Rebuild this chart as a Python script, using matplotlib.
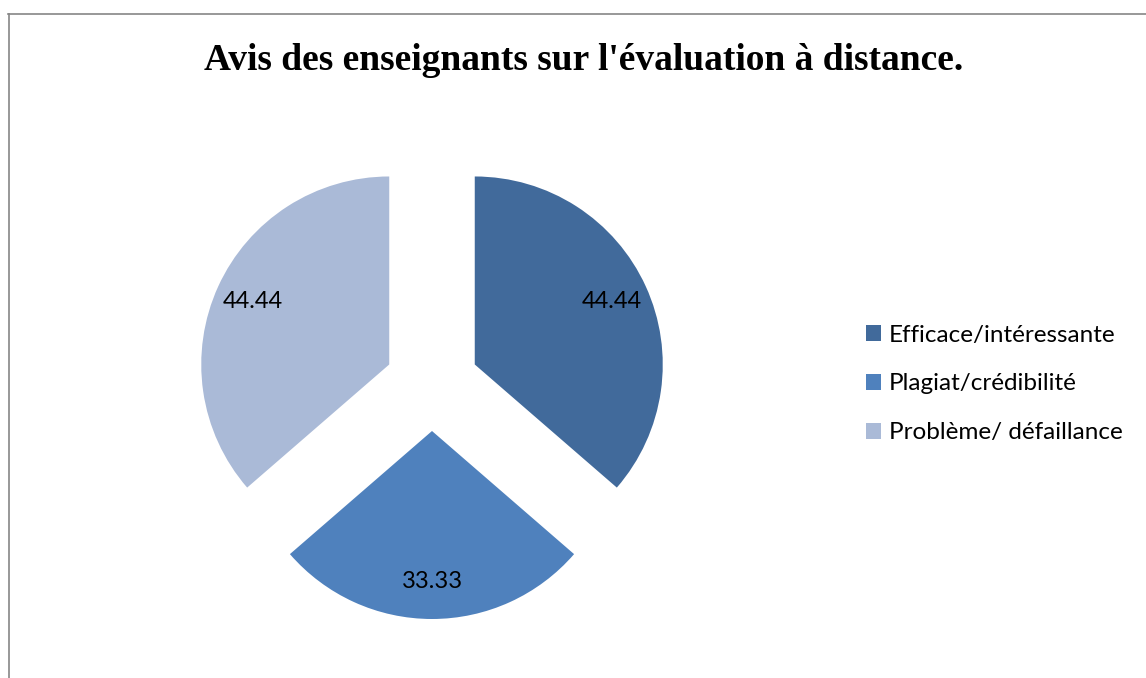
import matplotlib.pyplot as plt
from matplotlib.lines import Line2D

# data
categories = ['Efficace/intéressante', 'Plagiat/crédibilité', 'Problème/ défaillance']
values = [44.44, 33.33, 44.44]
colors = ['#416A9B', '#4F81BD', '#AABAD7']

W, H = 1146, 678
fig = plt.figure(figsize=(W / 100, H / 100), dpi=100)

# pie centre and radius in pixels
cx, cy, r = 432, 384, 188
size = 2 * 1.25 * r
ax = fig.add_axes([(cx - size / 2) / W, (H - cy - size / 2) / H, size / W, size / H])

wedges, texts = ax.pie(values, colors=colors, startangle=90, counterclock=False,
                       explode=[0.25] * len(values),
                       labels=[f'{v:.2f}' for v in values], labeldistance=0.8,
                       wedgeprops=dict(linewidth=0))
for t in texts:
    t.set_ha('center')
    t.set_va('center')
    t.set_fontfamily('Lato')
    t.set_fontsize(17)
for w in wedges:
    w.set_clip_on(False)
ax.set_xlim(-1.25, 1.25)
ax.set_ylim(-1.25, 1.25)

# title
fig.text(584 / W, 1 - 61 / H, "Avis des enseignants sur l'évaluation à distance.",
         ha='center', va='center', fontfamily='Liberation Serif', fontweight='bold', fontsize=27)

# legend
fig.legend(wedges, categories, loc='center left', bbox_to_anchor=(866 / W, 1 - 384 / H),
           frameon=False, borderpad=0, borderaxespad=0, handlelength=0.6, handleheight=0.6,
           handletextpad=0.35, labelspacing=1.15, prop=dict(family='Lato', size=17.5))

# chart border (only top and left are visible in the crop)
fig.add_artist(Line2D([8.5 / W, 8.5 / W], [0, 1 - 14 / H], transform=fig.transFigure,
                      color='#868686', lw=1.2))
fig.add_artist(Line2D([8 / W, 1], [1 - 14 / H, 1 - 14 / H], transform=fig.transFigure,
                      color='#868686', lw=1.2))

fig.savefig('out.png', dpi=100)
